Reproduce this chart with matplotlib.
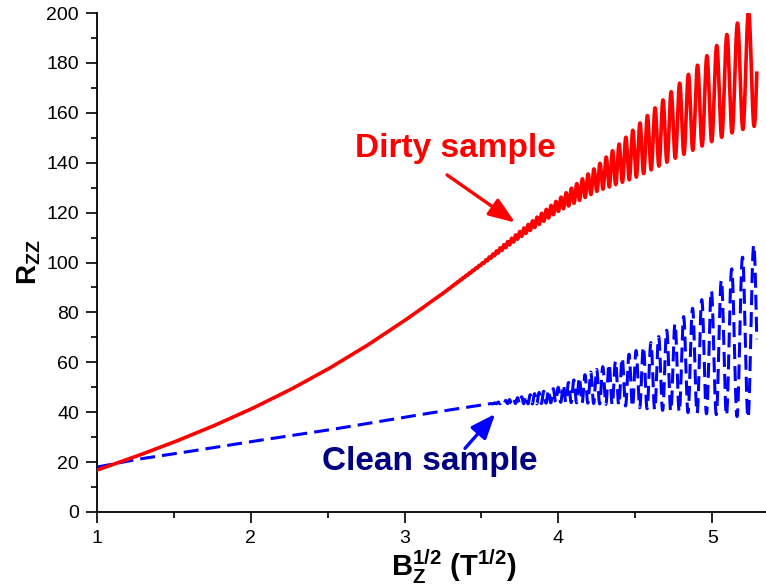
import numpy as np
import matplotlib
matplotlib.use('Agg')
import matplotlib.pyplot as plt
from matplotlib.ticker import MultipleLocator

plt.rcParams['font.family'] = ['Liberation Sans', 'DejaVu Sans']
plt.rcParams['mathtext.fontset'] = 'custom'
plt.rcParams['mathtext.rm'] = 'Liberation Sans'
plt.rcParams['mathtext.bf'] = 'Liberation Sans:bold'
plt.rcParams['mathtext.it'] = 'Liberation Sans:italic'

# ---- R_zz vs sqrt(B): upper / lower envelopes of the oscillating traces ----
dirty_x = [1.0, 1.25, 1.5, 1.75, 2.0, 2.25, 2.5, 2.75, 3.0, 3.25, 3.5, 3.75,
           4.0, 4.25, 4.5, 4.75, 5.0, 5.15, 5.3]
dirty_upper = [16.8, 22.2, 28.0, 34.3, 41.2, 48.8, 57.2, 66.5, 76.7, 87.8, 99.6, 112.5,
               125.3, 138.5, 154.0, 169.5, 185.0, 195.0, 205.0]
dirty_lower = [16.8, 22.2, 28.0, 34.3, 41.2, 48.8, 57.2, 66.5, 76.7, 87.6, 99.0, 110.0,
               120.5, 128.5, 134.0, 141.5, 148.5, 152.5, 155.0]

clean_x = [1.0, 1.25, 1.5, 2.0, 2.5, 3.0, 3.3, 3.55, 3.7, 3.85, 4.0, 4.2, 4.4, 4.6,
           4.8, 5.0, 5.15, 5.3]
clean_upper = [18.0, 21.0, 23.3, 28.2, 32.8, 38.0, 41.0, 43.3, 45.3, 47.5, 50.0, 55.8,
               61.3, 67.8, 77.5, 89.0, 99.0, 109.0]
clean_lower = [18.0, 21.0, 23.3, 28.2, 32.8, 38.0, 41.0, 43.3, 43.5, 43.3, 44.0, 43.6,
               42.8, 41.2, 40.0, 39.2, 38.3, 37.3]

# SdH oscillations are periodic in 1/B; peak positions of each trace
sdh_freq = 980.0          # T
dirty_peak_x = 5.236      # sqrt(T), a maximum of the dirty trace
clean_peak_x = 5.27       # sqrt(T), a maximum of the clean trace
x_end = 5.29

x_ticks = [1, 2, 3, 4, 5]
y_ticks = [0, 20, 40, 60, 80, 100, 120, 140, 160, 180, 200]


def trace(x, env_x, upper, lower, peak_x):
    up = np.interp(x, env_x, upper)
    lo = np.interp(x, env_x, lower)
    phase = 2 * np.pi * sdh_freq * (1.0 / x**2 - 1.0 / peak_x**2)
    return lo + (up - lo) * (1 + np.cos(phase)) / 2


x = np.linspace(1.0, x_end, 40000)
r_dirty = trace(x, dirty_x, dirty_upper, dirty_lower, dirty_peak_x)
r_clean = trace(x, clean_x, clean_upper, clean_lower, clean_peak_x)

fig = plt.figure(figsize=(7.66, 5.87), dpi=100)
ax = fig.add_axes([97 / 766, 75 / 587, 669 / 766, 499 / 587])

ax.plot(x, r_clean, color='#0000FF', lw=2.2, linestyle=(0, (4.9, 2.3)), zorder=2)
ax.plot(x, r_dirty, color='#FF0000', lw=2.6, zorder=3)

ax.set_xlim(1, 5.35)
ax.set_ylim(0, 200)
ax.set_xticks(x_ticks)
ax.set_yticks(y_ticks)
ax.xaxis.set_minor_locator(MultipleLocator(0.5))
ax.yaxis.set_minor_locator(MultipleLocator(10))
ax.tick_params(which='major', direction='out', length=8, width=1.2, labelsize=14, pad=5)
ax.tick_params(which='minor', direction='out', length=4, width=1.2)
for side in ['top', 'right']:
    ax.spines[side].set_visible(False)
for side in ['left', 'bottom']:
    ax.spines[side].set_linewidth(1.3)

ax.set_xlabel(r'$\mathbf{B_Z^{1/2}\ (T^{1/2})}$', fontsize=21)
ax.xaxis.set_label_coords(0.534, -0.07)
ax.set_ylabel(r'$\mathbf{R_{ZZ}}$', fontsize=20)
ax.yaxis.set_label_coords(-0.08, 0.5)

# annotations
ax.text(3.328, 142.4, 'Dirty sample', color='#FF0000', fontsize=24,
        fontweight='bold', ha='center', va='baseline')
ax.annotate('', xy=(3.719, 116.0), xytext=(3.276, 135.1),
            arrowprops=dict(arrowstyle='-|>,head_length=0.8,head_width=0.3',
                            color='#FF0000', lw=2.4, mutation_scale=20,
                            shrinkA=0, shrinkB=0))
ax.text(3.862, 16.8, 'Clean sample', color='#000080', fontsize=24,
        fontweight='bold', ha='right', va='baseline')
ax.annotate('', xy=(3.589, 39.3), xytext=(3.393, 25.5),
            arrowprops=dict(arrowstyle='-|>,head_length=0.75,head_width=0.3',
                            color='#0000FF', lw=2.4, mutation_scale=20,
                            shrinkA=0, shrinkB=0))

fig.savefig('out.png', dpi=100)
